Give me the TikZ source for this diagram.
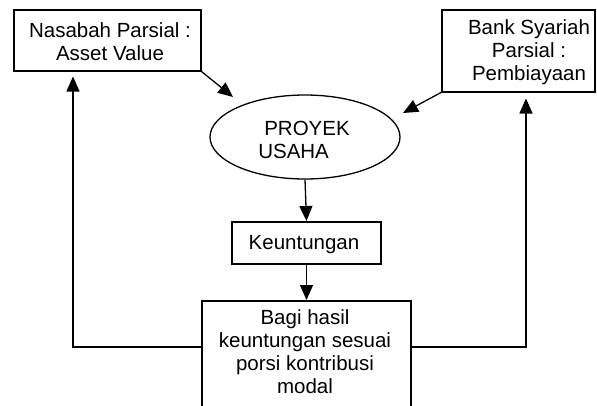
\documentclass[tikz,border=0pt]{standalone}
\usepackage{fontspec}
\setmainfont{Liberation Sans}
\usetikzlibrary{shapes.geometric,arrows.meta,calc}
\tikzset{
  boxshape/.style={draw, line width=2pt, rectangle, inner sep=0pt},
  ellshape/.style={draw, line width=1.3pt, ellipse, inner sep=0pt},
  txt/.style={inner sep=0pt, align=center, font=\fontsize{20.5}{23}\selectfont},
  arr/.style={line width=1.3pt, -{Triangle[length=15pt,width=13pt]}},
  ln/.style={line width=1.3pt}
}
\begin{document}
\begin{tikzpicture}[x=1pt,y=-1pt]
\useasboundingbox (0,0) rectangle (597,405);
\clip (0,0) rectangle (597,405);
% shapes
\node[boxshape, minimum width=187pt, minimum height=61pt] (n1) at (107,40) {};
\node[boxshape, minimum width=153pt, minimum height=82pt] (n2) at (518.5,50.5) {};
\node[ellshape, minimum width=190pt, minimum height=84pt] (ell) at (305,137) {};
\node[boxshape, minimum width=149pt, minimum height=42pt] (k) at (306.5,243) {};
\node[boxshape, minimum width=209pt, minimum height=130pt] (b) at (306.5,366) {};
% texts
\node[txt] (t1) at (110,42) {Nasabah Parsial :\\Asset Value};
\node[txt] (t2) at (529,52) {Bank Syariah\\Parsial :\\Pembiayaan};
\node[txt, align=left] (t3) at (304,140) {\hspace{6pt}PROYEK\\USAHA};
\node[txt] (t4) at (304,245) {Keuntungan};
\node[txt] (t5) at (305,352) {Bagi hasil\\keuntungan sesuai\\porsi kontribusi\\modal};
% connectors
\coordinate (e1) at (233,97);
\coordinate (e2) at (403,113);
\coordinate (cl) at (73,347);
\coordinate (cr) at (526,347);
\draw[arr] (n1.south east) -- (e1);
\draw[arr] (n2.south west) -- (e2);
\draw[arr] (ell.south) -- (k.north);
\draw[arr] (k.south) -- (b.north);
\draw[arr, shorten >=5pt] (cl -| b.west) -- (cl) -- (cl |- n1.south);
\draw[arr, shorten >=6pt] (cr -| b.east) -- (cr) -- (cr |- n2.south);
\end{tikzpicture}
\end{document}
